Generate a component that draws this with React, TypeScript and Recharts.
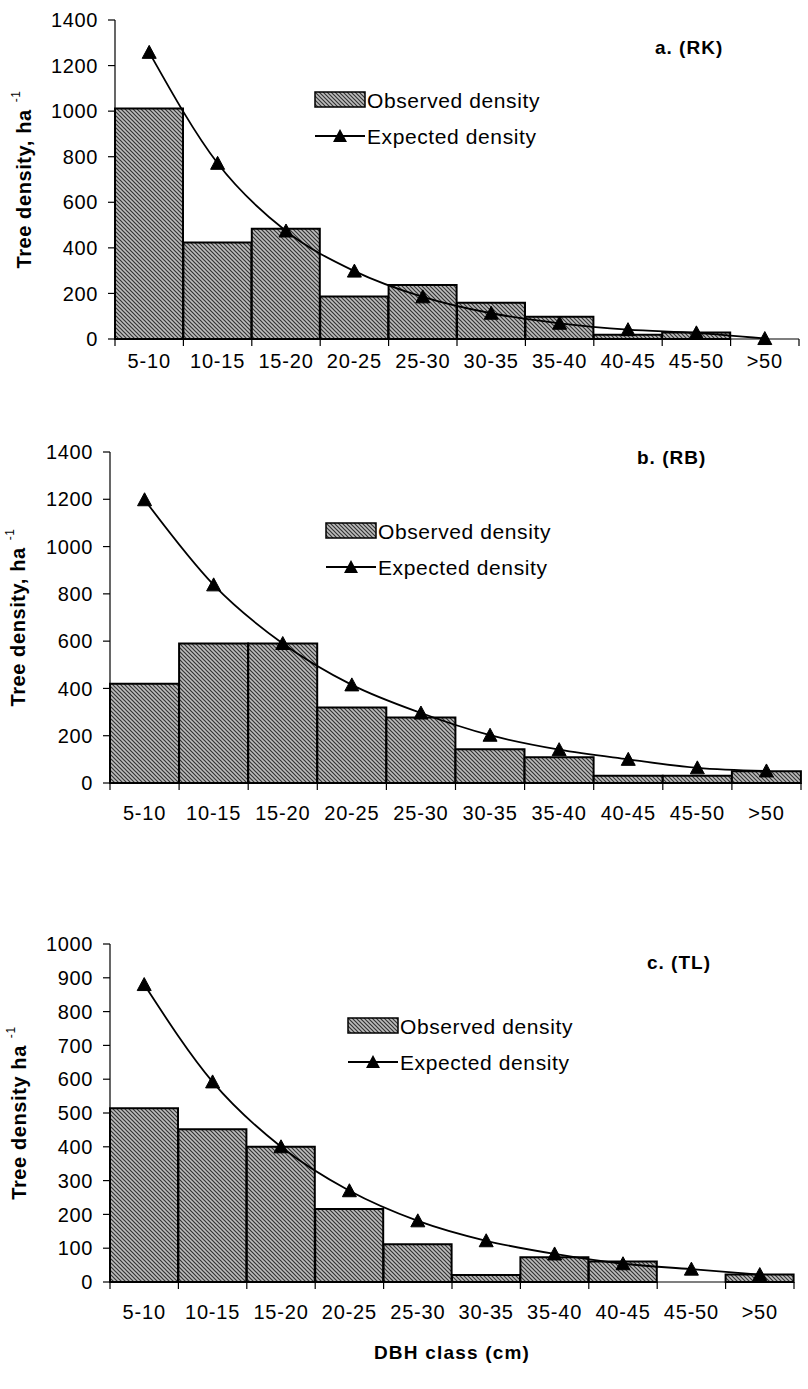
import React from 'react';
import { ComposedChart, Bar, Line, XAxis, YAxis, Legend } from 'recharts';

// DBH classes shared by all three panels
const classes = ['5-10', '10-15', '15-20', '20-25', '25-30', '30-35', '35-40', '40-45', '45-50', '>50'];

// a. (RK)
const observedRK = [1012, 423, 484, 186, 237, 159, 98, 19, 29, 0];
const expectedRK = [1258, 771, 474, 298, 185, 113, 69, 41, 27, 2];

// b. (RB)
const observedRB = [420, 590, 590, 319, 277, 143, 109, 31, 31, 50];
const expectedRB = [1198, 838, 590, 415, 296, 202, 141, 100, 64, 51];

// c. (TL)
const observedTL = [514, 452, 400, 216, 112, 21, 73, 61, 0, 22];
const expectedTL = [880, 592, 400, 270, 181, 122, 83, 54, 38, 22];

const ticks1400 = [0, 200, 400, 600, 800, 1000, 1200, 1400];
const ticks1000 = [0, 100, 200, 300, 400, 500, 600, 700, 800, 900, 1000];

const FONT = '"Liberation Sans", Arial, sans-serif';

const triangle = (cx: number, cy: number) =>
  `M${cx},${cy - 7} L${cx + 7},${cy + 6} L${cx - 7},${cy + 6} Z`;

const TriangleDot = (props: any) => {
  const { cx, cy } = props;
  if (cx == null || cy == null) return null;
  return <path d={triangle(cx, cy)} fill="#000" stroke="#000" strokeWidth={1} />;
};

const makeXTick = (gap: number) => (props: any) => {
  const { x, y, payload, width } = props;
  const half = payload.offset || width / (2 * classes.length);
  const axisY = y - gap;
  const last = payload.value === classes[classes.length - 1];
  return (
    <g>
      <line x1={x - half} x2={x - half} y1={axisY} y2={axisY + 7} stroke="#000" strokeWidth={1.2} />
      {last && <line x1={x + half} x2={x + half} y1={axisY} y2={axisY + 7} stroke="#000" strokeWidth={1.2} />}
      <text x={x} y={y} textAnchor="middle" dominantBaseline="central" fontSize={20} letterSpacing={0.8} fill="#000" fontFamily={FONT}>
        {payload.value}
      </text>
    </g>
  );
};

const renderLegend = () => (
  <svg width={260} height={60} style={{ overflow: 'visible', display: 'block' }}>
    <rect x={1} y={1} width={50} height={15} fill="url(#hatch)" stroke="#000" strokeWidth={1.5} />
    <text x={53} y={9} dominantBaseline="central" fontSize={21} letterSpacing={0.6} fill="#000" fontFamily={FONT}>
      Observed density
    </text>
    <line x1={1} x2={51} y1={45} y2={45} stroke="#000" strokeWidth={1.8} />
    <path d={triangle(26, 45)} fill="#000" />
    <text x={53} y={45} dominantBaseline="central" fontSize={21} letterSpacing={0.6} fill="#000" fontFamily={FONT}>
      Expected density
    </text>
  </svg>
);

type PanelProps = {
  top: number;
  height: number;
  observed: number[];
  expected: number[];
  yMax: number;
  yTicks: number[];
  plotTop: number;
  plotLeft: number;
  plotRight: number;
  xAxisHeight: number;
  bottomMargin: number;
  tickGap: number;
  yLabel: string;
  yLabelX: number;
  legendLeft: number;
  legendTop: number;
  title: string;
  titleLeft: number;
  titleY: number;
  xTitle?: string;
};

function Panel(p: PanelProps) {
  const data = classes.map((c, i) => ({ name: c, observed: p.observed[i], expected: p.expected[i] }));
  return (
    <div style={{ position: 'absolute', left: 0, top: p.top, width: 808, height: p.height }}>
      <ComposedChart
        width={808}
        height={p.height}
        data={data}
        barCategoryGap={0}
        barGap={0}
        margin={{ top: p.plotTop, right: 808 - p.plotRight, left: 0, bottom: p.bottomMargin }}
      >
        <XAxis
          dataKey="name"
          height={p.xAxisHeight}
          tickLine={false}
          tickSize={0}
          tickMargin={p.tickGap}
          interval={0}
          axisLine={{ stroke: '#000', strokeWidth: 1.2 }}
          tick={makeXTick(p.tickGap)}
          label={
            p.xTitle
              ? {
                  content: (lp: any) => {
                    const vb = lp.viewBox;
                    return (
                      <text
                        x={vb.x + vb.width / 2}
                        y={vb.y + 70}
                        textAnchor="middle"
                        dominantBaseline="central"
                        fontSize={19}
                        fontWeight="bold"
                        letterSpacing={1.2}
                        fontFamily={FONT}
                        fill="#000"
                      >
                        {p.xTitle}
                      </text>
                    );
                  },
                }
              : undefined
          }
        />
        <YAxis
          width={p.plotLeft}
          domain={[0, p.yMax]}
          ticks={p.yTicks}
          interval={0}
          tickSize={7}
          tickMargin={10}
          axisLine={{ stroke: '#000', strokeWidth: 1.2 }}
          tickLine={{ stroke: '#000', strokeWidth: 1.2 }}
          tick={{ fill: '#000', fontSize: 20, fontFamily: FONT, letterSpacing: 0.6 }}
          label={{
            content: (lp: any) => {
              const vb = lp.viewBox;
              const cx = vb.x + p.yLabelX;
              const cy = vb.y + vb.height / 2;
              return (
                <text
                  transform={`translate(${cx},${cy}) rotate(-90)`}
                  textAnchor="middle"
                  dominantBaseline="central"
                  fontSize={20}
                  fontWeight="bold"
                  letterSpacing={0.6}
                  fontFamily={FONT}
                  fill="#000"
                >
                  {p.yLabel}
                  <tspan dx={7} dy={-8} fontSize={12} fontWeight="normal">-1</tspan>
                </text>
              );
            },
          }}
        />
        <Legend
          layout="vertical"
          align="center"
          verticalAlign="middle"
          content={renderLegend}
          wrapperStyle={{ left: p.legendLeft - 1, top: p.legendTop - 1, width: 260, height: 60 }}
        />
        <Bar dataKey="observed" fill="url(#hatch)" stroke="#000" strokeWidth={2} isAnimationActive={false} />
        <Line
          dataKey="expected"
          type="monotone"
          stroke="#000"
          strokeWidth={1.8}
          dot={<TriangleDot />}
          activeDot={false}
          isAnimationActive={false}
        />
      </ComposedChart>
      <div
        style={{
          position: 'absolute',
          left: p.titleLeft,
          top: p.titleY - 11,
          fontSize: 19,
          lineHeight: '22px',
          fontWeight: 'bold',
          letterSpacing: 1,
          fontFamily: FONT,
          color: '#000',
          whiteSpace: 'nowrap',
        }}
      >
        {p.title}
      </div>
    </div>
  );
}

export default function App() {
  return (
    <div style={{ position: 'absolute', left: 0, top: 0, width: 808, height: 1389, background: '#fff', fontFamily: FONT }}>
      <svg width={0} height={0} style={{ position: 'absolute' }}>
        <defs>
          <pattern id="hatch" patternUnits="userSpaceOnUse" width={4} height={4}>
            <rect width={4} height={4} fill="#bdbdbd" />
            <path d="M-1,-1 L5,5 M-1,3 L1,5 M3,-1 L5,1" stroke="#333" strokeWidth={1.2} />
          </pattern>
        </defs>
      </svg>
      <Panel
        top={0}
        height={380}
        observed={observedRK}
        expected={expectedRK}
        yMax={1400}
        yTicks={ticks1400}
        plotTop={20}
        plotLeft={115}
        plotRight={799}
        xAxisHeight={30}
        bottomMargin={11}
        tickGap={22}
        yLabel="Tree density, ha"
        yLabelX={24}
        legendLeft={315}
        legendTop={92}
        title="a. (RK)"
        titleLeft={655}
        titleY={48}
      />
      <Panel
        top={380}
        height={460}
        observed={observedRB}
        expected={expectedRB}
        yMax={1400}
        yTicks={ticks1400}
        plotTop={72}
        plotLeft={110}
        plotRight={801}
        xAxisHeight={40}
        bottomMargin={17}
        tickGap={30}
        yLabel="Tree density, ha"
        yLabelX={18}
        legendLeft={326}
        legendTop={143}
        title="b. (RB)"
        titleLeft={637}
        titleY={78}
      />
      <Panel
        top={840}
        height={549}
        observed={observedTL}
        expected={expectedTL}
        yMax={1000}
        yTicks={ticks1000}
        plotTop={104}
        plotLeft={110}
        plotRight={794}
        xAxisHeight={80}
        bottomMargin={27}
        tickGap={30}
        yLabel="Tree density ha"
        yLabelX={19}
        legendLeft={348}
        legendTop={178}
        title="c. (TL)"
        titleLeft={647}
        titleY={123}
        xTitle="DBH class (cm)"
      />
    </div>
  );
}
